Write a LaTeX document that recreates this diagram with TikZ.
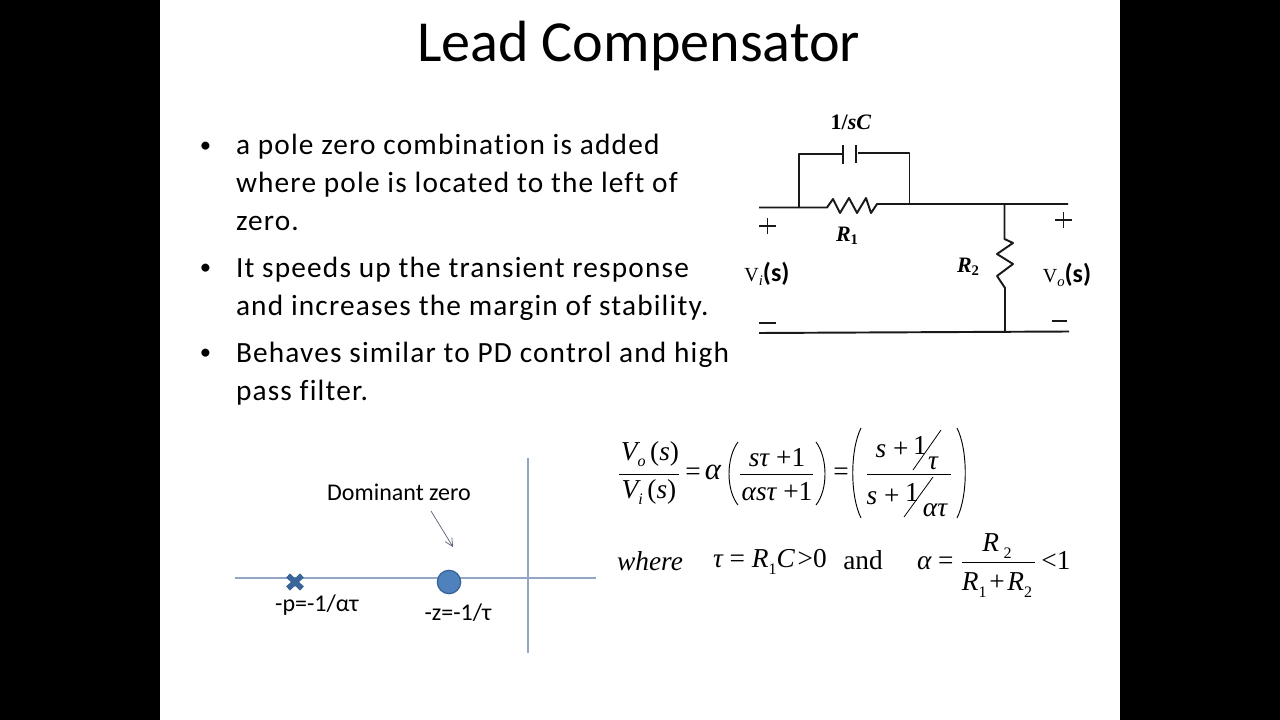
\documentclass[tikz,border=0pt]{standalone}
\usepackage{fontspec}
\usetikzlibrary{arrows.meta}
\setmainfont{Carlito}[Ligatures=NoCommon]
\newfontfamily\bodyf{Carlito}[Ligatures=NoCommon,LetterSpace=4]
\newfontfamily\mathser{Liberation Serif}
\newcommand{\fs}[1]{\fontsize{#1}{#1}\selectfont}
\newcommand{\mi}[1]{{\mathser\itshape #1}}
\newcommand{\mr}[1]{{\mathser #1}}
\definecolor{axisc}{HTML}{93A6C6}
\definecolor{ptfill}{HTML}{4F81BD}
\definecolor{ptedge}{HTML}{3A659B}
\tikzset{
 x=0.75pt,y=-0.75pt,
 wire/.style={draw=black!90,line width=1.45pt,line join=round},
 body/.style={inner sep=0pt,outer sep=0pt,anchor=base west,font=\bodyf\fs{22}},
 ann/.style={inner sep=0pt,outer sep=0pt,font=\fs{18}},
 axisl/.style={draw=axisc,line width=0.9pt},
 ckt/.style={inner sep=0pt,outer sep=0pt,font=\mathser\bfseries\fs{16.5}},
 vlab/.style={inner sep=0pt,outer sep=0pt,font=\fs{19.5}},
 eq/.style={inner sep=0pt,outer sep=0pt,font=\mathser\fs{20.5}},
 bar/.style={draw=black,line width=0.6pt},
 paren/.style={draw=black,line width=0.7pt},
}
\begin{document}
\begin{tikzpicture}
\useasboundingbox (0,0) rectangle (1280,720);
\fill[black] (0,0) rectangle (1280,720);
\fill[white] (160,0) rectangle (1120,720);
% title
\node[inner sep=0pt,font=\fs{43.6}] (title) at (638.5,46) {Lead Compensator};
% bullets
\foreach \n/\yy in {a/152.5,b/274.5,c/359.5}
  \node[inner sep=0pt,outer sep=0pt,anchor=base,font=\fs{17}] (bul\n) at (205.5,\yy) {•};
\node[body] (l1) at (236,155) {a pole zero combination is added};
\node[body] (l2) at (236,193) {where pole is located to the left of};
\node[body] (l3) at (236,231) {zero.};
\node[body] (l4) at (236,277) {It speeds up the transient response};
\node[body] (l5) at (236,315) {and increases the margin of stability.};
\node[body] (l6) at (236,362) {Behaves similar to PD control and high};
\node[body] (l7) at (236,400) {pass filter.};
% circuit
\draw[wire] (759,207.5) -- (827,207.5) -- (833,199) -- (840,213) -- (849,198) -- (857,213) -- (866,198) -- (871,213) -- (877,204) -- (1068,204);
\draw[wire] (799,207.5) -- (799,154) -- (842,154);
\draw[wire] (843,145) -- (843,164);
\draw[wire] (856,145) -- (856,163);
\draw[wire] (858,153) -- (909.5,153) -- (909.5,204);
\draw[wire] (1004.5,204) -- (1004.5,239) -- (1013,243) -- (997,254) -- (1013,264) -- (997,276) -- (1005,288) -- (1005,332);
\draw[wire] (759,333) -- (1069,331.5);
\draw[wire] (759,226) -- (776,226) (767.5,218) -- (767.5,234);
\draw[wire] (1055,220) -- (1072,220) (1063.5,212) -- (1063.5,228);
\draw[wire] (759,323) -- (776,323);
\draw[wire] (1052,321) -- (1067,321);
\node[ckt] (cl) at (851,122) {1/\textit{sC}};
\node[ckt] (r1) at (847,236) {\textit{R}\raisebox{-0.25ex}{\fs{11}1}};
\node[ckt] (r2) at (968,267) {\textit{R}\raisebox{-0.25ex}{\fs{11}2}};
\node[vlab] (vi) at (767,274) {\mr{\fs{15}V}\raisebox{-0.3ex}{\mi{\fs{11}i}}\textbf{(s)}};
\node[vlab] (vo) at (1067,275) {\mr{\fs{15}V}\raisebox{-0.3ex}{\mi{\fs{11}o}}\textbf{(s)}};
% pole-zero plot
\draw[axisl] (235,578) -- (596,578);
\draw[axisl] (528,458) -- (528,653);
\node[ann] (dom) at (399,492) {Dominant zero};
\coordinate (aa) at (431,511);
\coordinate (ab) at (453,547);
\draw[draw=black!45!axisc,line width=0.5pt,-{Straight Barb[length=6pt,width=6pt]}] (aa) -- (ab);
\node[circle,fill=ptfill,draw=ptedge,line width=1pt,minimum size=17.5pt,inner sep=0pt] (zero) at (449,582) {};
\draw[ptedge,line width=4.2pt] (288,575.5) -- (302,588.5) (302,575.5) -- (288,588.5);
\node[ann] (pl) at (317,605) {-p=-1/ατ};
\node[ann] (zl) at (458,613) {-z=-1/τ};
% equation 1
\node[eq] (vos) at (650,454) {\mi{V}\raisebox{-0.5ex}{\mi{\fs{12}o}}\,(\mi{s})};
\draw[bar] (619,474) -- (679,474);
\node[eq] (vis) at (649,492) {\mi{V}\raisebox{-0.5ex}{\mi{\fs{12}i}}\,(\mi{s})};
\node[eq] (e1) at (693,474) {=};
\node[eq,font=\mathser\itshape\fs{23}] (al) at (713,472) {α};
\draw[paren] (738,442) .. controls (726,458) and (726,490) .. (738,505);
\draw[paren] (816,442) .. controls (828,458) and (828,490) .. (816,505);
\node[eq] (n1) at (777,458) {\mi{sτ} +1};
\draw[bar] (740,474) -- (813,474);
\node[eq] (d1) at (777,492) {\mi{αsτ} +1};
\node[eq] (e2) at (841,474) {=};
\draw[paren] (861,428) .. controls (850,450) and (850,496) .. (861,518);
\draw[paren] (957,428) .. controls (968,450) and (968,496) .. (957,518);
\node[eq] (n2a) at (892,450) {\mi{s} +};
\node[eq] (n2b) at (920,445) {1};
\draw[bar] (941,430) -- (913,470);
\node[eq] (n2c) at (933,463) {\mi{τ}};
\draw[bar] (867,474) -- (951,474);
\node[eq] (d2a) at (883,497) {\mi{s} +};
\node[eq] (d2b) at (912,492) {1};
\draw[bar] (933,477) -- (904,517);
\node[eq] (d2c) at (935,510) {\mi{ατ}};
% equation 2
\node[eq] (wh) at (650,561) {\mi{where}};
\node[eq,anchor=west] (tau) at (713,562) {\mi{τ} = \mi{R}\raisebox{-0.5ex}{\fs{12}1}\mi{C} \kern-3pt>0};
\node[eq] (and) at (863,560) {and};
\node[eq,anchor=west] (ae) at (917,563) {\mi{α} =};
\node[eq] (nr) at (997,546) {\mi{R}\,\raisebox{-0.5ex}{\fs{12}2}};
\draw[bar] (962,562) -- (1035,562);
\node[eq] (dr) at (997,585) {\mi{R}\raisebox{-0.5ex}{\fs{12}1}\kern2pt+\kern2pt\mi{R}\raisebox{-0.5ex}{\fs{12}2}};
\node[eq] (lt) at (1056,560) {<1};
\end{tikzpicture}
\end{document}
